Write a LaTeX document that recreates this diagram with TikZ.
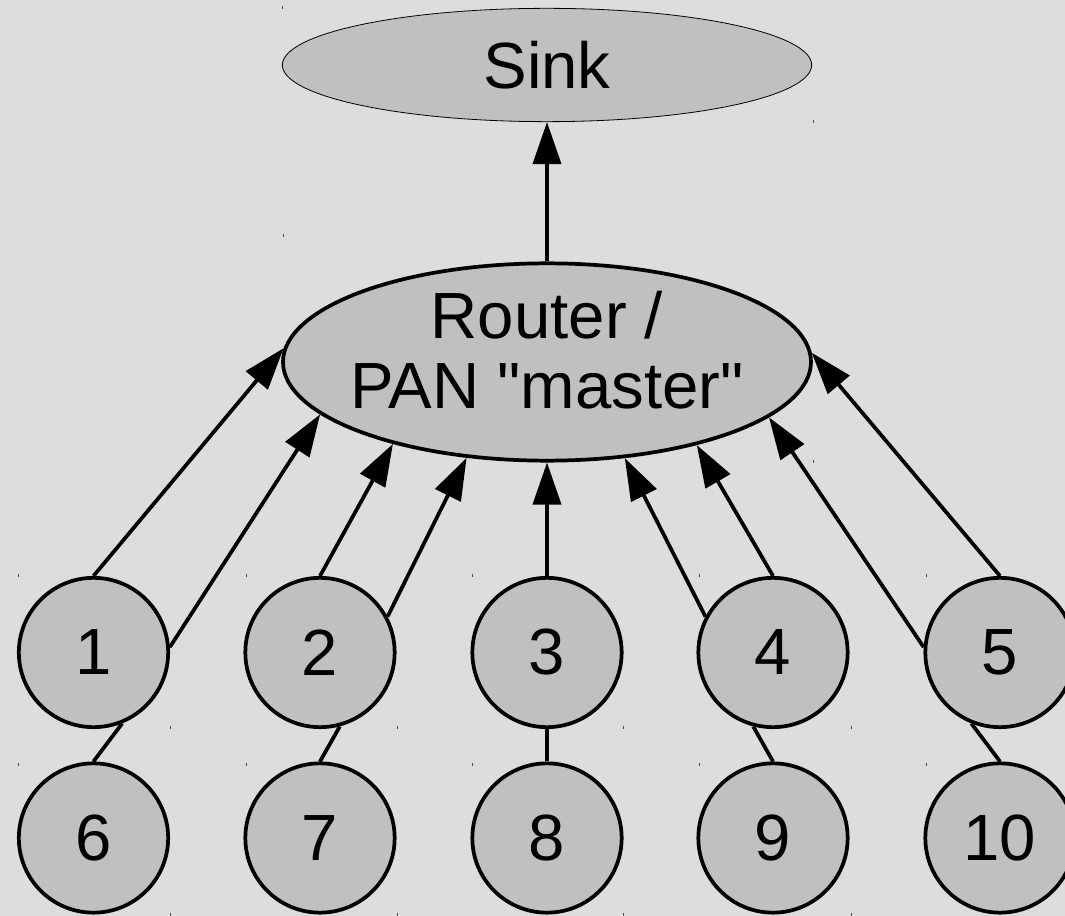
\documentclass[tikz,border=0pt]{standalone}
\usepackage{fontspec}
\setmainfont{Liberation Sans}
\usetikzlibrary{arrows.meta,shapes.geometric}
\definecolor{canvas}{RGB}{221,221,221}
\definecolor{nodefill}{RGB}{192,192,192}
\begin{document}
\begin{tikzpicture}[x=0.75pt,y=-0.75pt,
  every node/.style={font=\fontsize{49}{52.5}\selectfont},
  station/.style={circle,draw,line width=2.8pt,fill=nodefill,minimum size=112pt,inner sep=0pt},
  hub/.style={ellipse,draw,line width=2.8pt,fill=nodefill,minimum width=396pt,minimum height=148pt,inner sep=0pt},
  sinkshape/.style={ellipse,draw,line width=0.6pt,fill=nodefill,minimum width=397pt,minimum height=85pt,inner sep=0pt},
  link/.style={line width=2.8pt},
  uplink/.style={link,-{Triangle[length=31.5pt,width=21pt]}},
  gridtick/.style={line width=0.75pt,black!70}]
% canvas
\fill[canvas] (0,0) rectangle (1065,916);
\useasboundingbox (0,0) rectangle (1065,916);

% small corner marks of the drawing grid
\foreach \x/\y in {282/8,813/122,283/236,813/462,
  18/575,170/727,246/575,397/727,472/575,623/727,699/575,851/727,926/575,
  18/764,170/914,246/764,397/914,472/764,623/914,699/764,851/914,926/764}
  \draw[gridtick] (\x,\y-1.5) -- (\x,\y+1.5);

% sink and router
\node[sinkshape] (sink) at (547,65) {Sink};
\node[hub] (router) at (547,362) {};
\node[align=center,inner sep=0pt] (routertext) at (547,350)
  {Router /\\PAN \textquotedbl master\textquotedbl};

% stations
\foreach \i/\x in {1/93.5,2/320,3/547,4/773,5/1000}
  \node[station] (c\i) at (\x,652.5) {\i};
\foreach \i/\x in {6/93.5,7/320,8/547,9/773,10/1000}
  \node[station] (c\i) at (\x,838) {\i};

% uplinks
\draw[uplink] (router.north) -- (sink.south);
\draw[uplink] (c1.north) -- (router.177.4);
\draw[uplink] (c1.4) -- (router.193.6);
\draw[uplink] (c2.north) -- (router.208.7);
\draw[uplink] (c2.28) -- (router.230.9);
\draw[uplink] (c3.north) -- (router.south);
\draw[uplink] (c4.152) -- (router.309.1);
\draw[uplink] (c4.north) -- (router.331.3);
\draw[uplink] (c5.176) -- (router.346.4);
\draw[uplink] (c5.north) -- (router.2.6);

% second-row links
\draw[link] (c6.north) -- (c1.292);
\draw[link] (c7.north) -- (c2.285);
\draw[link] (c8.north) -- (c3.south);
\draw[link] (c9.north) -- (c4.255);
\draw[link] (c10.north) -- (c5.248);
\end{tikzpicture}
\end{document}
